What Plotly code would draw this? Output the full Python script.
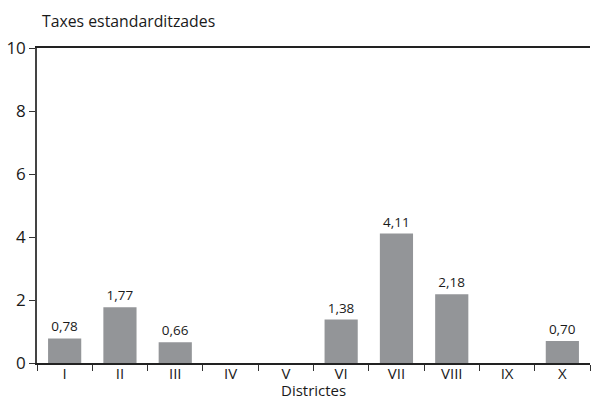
import plotly.graph_objects as go

districtes = ["I", "II", "III", "IV", "V", "VI", "VII", "VIII", "IX", "X"]
taxes = [0.78, 1.77, 0.66, None, None, 1.38, 4.11, 2.18, None, 0.70]
y_ticks = [0, 2, 4, 6, 8, 10]

labels = ["" if v is None else f"{v:.2f}".replace(".", ",") for v in taxes]

FONT = "Open Sans, Noto Sans, sans-serif"
INK = "#1a1a1a"

fig = go.Figure(
    go.Bar(
        x=districtes,
        y=[0 if v is None else v for v in taxes],
        text=labels,
        textposition="outside",
        textfont=dict(size=13.5, color=INK, family=FONT),
        cliponaxis=False,
        marker=dict(color="#939598", line=dict(width=0)),
        width=0.6,
    )
)

fig.update_layout(
    width=593,
    height=399,
    margin=dict(l=37, r=3, t=48, b=36),
    paper_bgcolor="white",
    plot_bgcolor="white",
    showlegend=False,
    font=dict(family=FONT, color=INK),
    annotations=[
        dict(
            text="Taxes estandarditzades",
            xref="paper", yref="paper",
            x=0.005, y=1.0, yshift=27,
            xanchor="left", yanchor="middle",
            showarrow=False,
            font=dict(size=15.8, family=FONT, color=INK),
        ),
        dict(
            text="Districtes",
            xref="paper", yref="paper",
            x=0.5, y=0.0, yshift=-27,
            xanchor="center", yanchor="middle",
            showarrow=False,
            font=dict(size=15, family=FONT, color=INK),
        ),
    ],
)

fig.update_xaxes(
    type="category",
    tickson="boundaries",
    ticks="outside",
    ticklen=6,
    tickwidth=1.3,
    tickcolor="#333333",
    showline=True,
    linecolor="#222222",
    linewidth=1.5,
    mirror=True,
    showgrid=False,
    tickfont=dict(size=15, family=FONT, color=INK),
    ticklabelstandoff=-4,
    range=[-0.5, 9.5],
)

fig.update_yaxes(
    range=[0, 10],
    tickvals=y_ticks,
    ticktext=[str(t) for t in y_ticks],
    ticks="outside",
    ticklen=6,
    tickwidth=1.3,
    tickcolor="#333333",
    showline=True,
    linecolor="#444444",
    linewidth=1.5,
    showgrid=False,
    zeroline=False,
    tickfont=dict(size=17, family=FONT, color=INK),
)

fig.write_html("out.html")
